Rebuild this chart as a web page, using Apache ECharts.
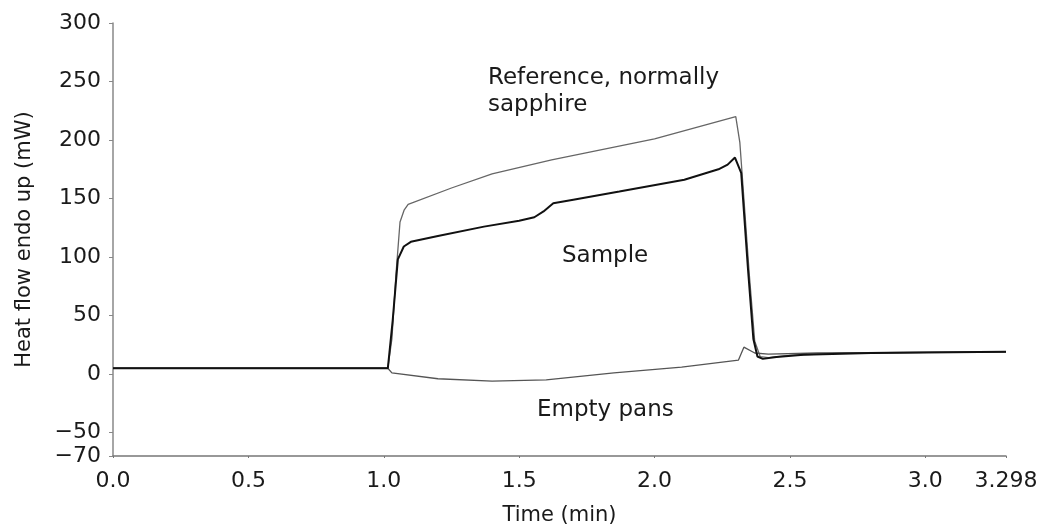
<!DOCTYPE html>
<html>
<head>
<meta charset="utf-8">
<script src="https://cdn.jsdelivr.net/npm/echarts@6/dist/echarts.min.js"></script>
<style>
html,body{margin:0;padding:0;background:#fff;}
#chart{width:1041px;height:528px;}
</style>
</head>
<body>
<div id="chart"></div>
<script>
// ---- data ----
const xTicks = [0, 0.5, 1.0, 1.5, 2.0, 2.5, 3.0, 3.298];
const yTicks = [-70, -50, 0, 50, 100, 150, 200, 250, 300];

const refTime = [0, 1.015, 1.03, 1.045, 1.06, 1.075, 1.09, 1.25, 1.40, 1.62, 2.0, 2.30, 2.315, 2.33, 2.35, 2.37, 2.39, 2.42, 2.5, 2.7, 3.0, 3.298];
const refHeat = [5, 5, 30, 85, 130, 140, 145, 159, 171, 183, 201, 220, 198, 150, 85, 28, 15, 14, 16, 18, 18.5, 19];

const sampleTime = [0, 1.015, 1.033, 1.052, 1.074, 1.10, 1.2, 1.37, 1.50, 1.556, 1.59, 1.626, 1.70, 1.87, 2.11, 2.236, 2.27, 2.297, 2.32, 2.345, 2.365, 2.38, 2.40, 2.45, 2.55, 2.8, 3.298];
const sampleHeat = [5, 5, 46, 98, 109, 113, 118, 126, 131, 134, 139, 146, 149, 156, 166, 175, 179, 185, 172, 90, 30, 15, 13, 14.5, 16.5, 18, 19];

const emptyTime = [0, 1.015, 1.03, 1.2, 1.4, 1.6, 1.85, 2.1, 2.31, 2.33, 2.37, 2.42, 2.6, 3.298];
const emptyHeat = [5, 5, 1, -4, -6, -5, 1, 6, 12, 23, 18, 17, 18, 19];

const xName = 'Time (min)';
const yName = 'Heat flow endo up (mW)';
const annotations = ['Reference, normally', 'sapphire', 'Sample', 'Empty pans'];

function pairs(t, v) { return t.map((x, i) => [x, v[i]]); }

const FONT = 'DejaVu Sans';
const TXT = '#1a1a1a';
const chart = echarts.init(document.getElementById('chart'), null, {renderer: 'canvas'});

chart.setOption({
  animation: false,
  backgroundColor: '#fff',
  grid: {left: 113, right: 35, top: 23, bottom: 72, containLabel: false, outerBoundsMode: 'none'},
  xAxis: {
    type: 'value', min: 0, max: 3.298,
    name: xName, nameLocation: 'middle', nameGap: 49,
    nameTextStyle: {fontFamily: FONT, fontSize: 21, color: TXT},
    axisLine: {onZero: false, lineStyle: {color: '#777', width: 1.5}},
    axisTick: {show: true, length: 2, customValues: xTicks, lineStyle: {color: '#777'}},
    axisLabel: {customValues: xTicks, margin: 14, fontFamily: FONT, fontSize: 22, color: TXT,
      formatter: v => (Math.abs(v - 3.298) < 1e-6 ? '3.298' : v.toFixed(1))},
    splitLine: {show: false}
  },
  yAxis: {
    type: 'value', min: -70, max: 300,
    name: yName, nameLocation: 'middle', nameGap: 78, nameRotate: 90,
    nameTextStyle: {fontFamily: FONT, fontSize: 21, color: TXT},
    axisLine: {show: true, onZero: false, lineStyle: {color: '#888', width: 1.5}},
    axisTick: {show: true, length: 4, customValues: yTicks, lineStyle: {color: '#888'}},
    axisLabel: {customValues: yTicks, margin: 12, fontFamily: FONT, fontSize: 22, color: TXT,
      formatter: v => (v < 0 ? '\u2212' + Math.abs(v) : String(v))},
    splitLine: {show: false}
  },
  series: [
    {type: 'line', name: 'Reference', data: pairs(refTime, refHeat), showSymbol: false,
      lineStyle: {color: '#666', width: 1.3}, z: 2},
    {type: 'line', name: 'Empty pans', data: pairs(emptyTime, emptyHeat), showSymbol: false,
      lineStyle: {color: '#555', width: 1.3}, z: 2},
    {type: 'line', name: 'Sample', data: pairs(sampleTime, sampleHeat), showSymbol: false,
      lineStyle: {color: '#111', width: 2}, z: 3}
  ],
  graphic: [
    {type: 'text', left: 488, top: 67, style: {text: annotations[0], font: '23px "DejaVu Sans"', fill: TXT}},
    {type: 'text', left: 488, top: 94, style: {text: annotations[1], font: '23px "DejaVu Sans"', fill: TXT}},
    {type: 'text', left: 562, top: 245, style: {text: annotations[2], font: '23px "DejaVu Sans"', fill: TXT}},
    {type: 'text', left: 537, top: 399, style: {text: annotations[3], font: '23px "DejaVu Sans"', fill: TXT}}
  ]
});
</script>
</body>
</html>
